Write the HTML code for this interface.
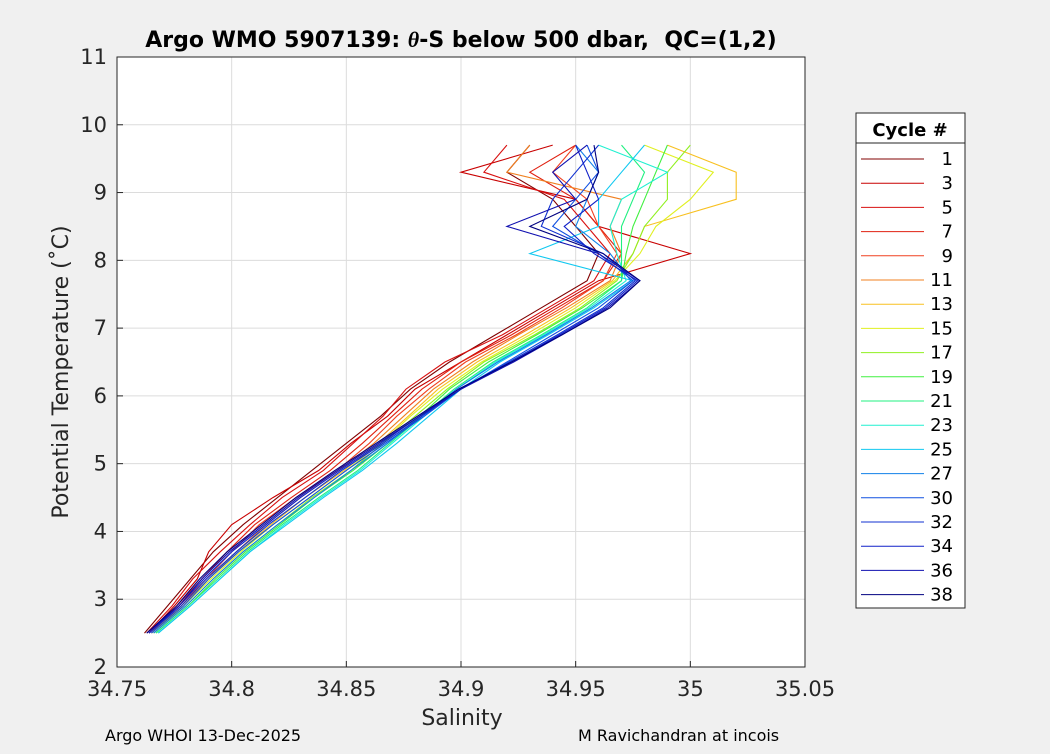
<!DOCTYPE html>
<html><head><meta charset="utf-8"><style>
body{margin:0;background:#f0f0f0;font-family:"DejaVu Sans","Liberation Sans",sans-serif}
</style></head><body>
<svg id="chart" width="1050" height="750" xmlns="http://www.w3.org/2000/svg" font-family="DejaVu Sans, Liberation Sans, sans-serif">
<rect width="1050" height="750" fill="#f0f0f0"/>
<rect x="117" y="57" width="688" height="610" fill="#fff"/>
<g id="grid"></g>
<g id="series"></g>
<rect x="117" y="57" width="688" height="610" fill="none" stroke="#262626" stroke-width="1"/>
<g id="ticks"></g>
<text x="461" y="47" text-anchor="middle" font-size="22" font-weight="bold" fill="#000" style="white-space:pre">Argo WMO 5907139: <tspan font-style="italic" font-family="Liberation Serif, serif">θ</tspan>-S below 500 dbar,  QC=(1,2)</text>
<text x="462" y="725" text-anchor="middle" font-size="22" fill="#262626">Salinity</text>
<text transform="translate(68,372) rotate(-90)" text-anchor="middle" font-size="22" fill="#262626">Potential Temperature (˚C)</text>
<text x="105" y="741" font-size="16" fill="#000">Argo WHOI 13-Dec-2025</text>
<text x="578" y="741" font-size="16" fill="#000">M Ravichandran at incois</text>
<g id="legend">
<rect x="856" y="113" width="109" height="495" fill="#fff" stroke="#262626"/>
<line x1="856" y1="143" x2="965" y2="143" stroke="#262626"/>
<text x="910" y="136" text-anchor="middle" font-size="18" font-weight="bold">Cycle #</text>
</g>
</svg>
<script>
const cycles=[1,3,5,7,9,11,13,15,17,19,21,23,25,27,30,32,34,36,38];
const colors=["#800000","#c80000","#d81010","#e02010","#f04020","#f08020","#f8c020","#e0f020","#90f020","#40f040","#20f080","#20f0d0","#10c8f0","#1080e8","#1050e0","#1030d0","#1020c8","#1010b0","#000080"];
const tempLevels=[2.5,2.9,3.3,3.7,4.1,4.5,4.9,5.3,5.7,6.1,6.5,6.9,7.3,7.7,8.1,8.5,8.9,9.3,9.7];
const sal1=[34.762,34.772,34.782,34.792,34.805,34.82,34.835,34.85,34.865,34.878,34.895,34.915,34.935,34.955,34.96,34.95,34.94,34.92,34.93];
const sal3=[34.764,34.775,34.785,34.79,34.80,34.818,34.838,34.852,34.868,34.88,34.90,34.92,34.94,34.96,35.0,34.96,34.95,34.90,34.94];
const sal5=[34.763,34.774,34.783,34.795,34.808,34.822,34.84,34.853,34.866,34.876,34.893,34.918,34.938,34.958,34.965,34.955,34.945,34.91,34.92];
const sal7=[34.765,34.776,34.787,34.798,34.81,34.826,34.843,34.857,34.87,34.883,34.90,34.922,34.942,34.962,34.97,34.96,34.95,34.93,34.95];
const sal9=[34.764,34.777,34.789,34.80,34.812,34.828,34.846,34.86,34.872,34.886,34.902,34.924,34.944,34.962,34.968,34.96,34.955,34.94,34.95];
const sal11=[34.765,34.778,34.79,34.802,34.815,34.83,34.847,34.862,34.875,34.888,34.905,34.925,34.946,34.965,34.97,34.965,34.97,34.92,34.93];
const sal13=[34.765,34.779,34.79,34.803,34.817,34.832,34.849,34.864,34.877,34.89,34.907,34.928,34.948,34.966,34.975,34.98,35.02,35.02,34.99];
const sal15=[34.766,34.779,34.791,34.804,34.818,34.834,34.85,34.865,34.878,34.892,34.909,34.93,34.95,34.967,34.978,34.985,35.0,35.01,34.98];
const sal17=[34.766,34.78,34.792,34.805,34.82,34.835,34.852,34.866,34.88,34.894,34.91,34.932,34.952,34.968,34.975,34.98,34.99,34.99,35.0];
const sal19=[34.767,34.781,34.793,34.806,34.821,34.836,34.853,34.868,34.882,34.895,34.912,34.933,34.953,34.97,34.972,34.975,34.98,34.985,34.99];
const sal21=[34.767,34.781,34.794,34.807,34.822,34.838,34.855,34.869,34.883,34.897,34.914,34.935,34.955,34.97,34.97,34.97,34.975,34.98,34.97];
const sal23=[34.768,34.782,34.795,34.808,34.823,34.839,34.856,34.87,34.884,34.898,34.915,34.936,34.956,34.972,34.968,34.965,34.97,34.99,34.96];
const sal25=[34.768,34.782,34.795,34.808,34.824,34.84,34.857,34.872,34.886,34.9,34.917,34.938,34.958,34.975,34.93,34.96,34.96,34.97,34.98];
const sal27=[34.766,34.78,34.792,34.805,34.82,34.836,34.852,34.868,34.883,34.898,34.916,34.937,34.957,34.974,34.965,34.95,34.955,34.96,34.95];
const sal30=[34.765,34.779,34.79,34.803,34.818,34.834,34.85,34.867,34.884,34.9,34.92,34.94,34.96,34.975,34.96,34.94,34.95,34.96,34.955];
const sal32=[34.764,34.778,34.789,34.802,34.816,34.832,34.848,34.866,34.883,34.9,34.921,34.942,34.962,34.976,34.962,34.935,34.94,34.95,34.96];
const sal34=[34.764,34.777,34.788,34.8,34.815,34.83,34.847,34.865,34.882,34.899,34.922,34.943,34.963,34.977,34.958,34.945,34.96,34.955,34.95];
const sal36=[34.763,34.777,34.787,34.799,34.814,34.829,34.846,34.864,34.882,34.9,34.923,34.944,34.964,34.978,34.96,34.92,34.95,34.94,34.955];
const sal38=[34.763,34.776,34.786,34.798,34.813,34.828,34.845,34.863,34.881,34.899,34.922,34.944,34.965,34.978,34.962,34.93,34.955,34.96,34.958];
const salinity=[sal1,sal3,sal5,sal7,sal9,sal11,sal13,sal15,sal17,sal19,sal21,sal23,sal25,sal27,sal30,sal32,sal34,sal36,sal38];
const xTicks=[34.75,34.8,34.85,34.9,34.95,35,35.05];
const xTickLabels=["34.75","34.8","34.85","34.9","34.95","35","35.05"];
const yTicks=[2,3,4,5,6,7,8,9,10,11];

const X0=117,X1=805,Y0=667,Y1=57;
const sx=s=>X0+(s-34.75)/(35.05-34.75)*(X1-X0);
const sy=t=>Y0-(t-2)/(11-2)*(Y0-Y1);
const NS="http://www.w3.org/2000/svg";
function mk(tag,attrs,parent){const e=document.createElementNS(NS,tag);for(const k in attrs)e.setAttribute(k,attrs[k]);parent.appendChild(e);return e;}
const grid=document.getElementById('grid'),ticks=document.getElementById('ticks'),ser=document.getElementById('series'),leg=document.getElementById('legend');
xTicks.forEach((v,i)=>{
  const x=sx(v);
  const g=mk('line',{x1:x,x2:x,y1:Y1,y2:Y0,stroke:'#dcdcdc','stroke-width':1},grid);
  
  
  const t=mk('line',{x1:x,x2:x,y1:Y0,y2:Y0-6,stroke:'#262626'},ticks);
  
  
  const l=mk('text',{x:x,y:Y0+29,'text-anchor':'middle','font-size':21,fill:'#262626'},ticks);
  l.textContent=xTickLabels[i];
  
  
});
yTicks.forEach(v=>{
  const y=sy(v);
  const g=mk('line',{x1:X0,x2:X1,y1:y,y2:y,stroke:'#dcdcdc','stroke-width':1},grid);
  
  
  const t=mk('line',{x1:X0,x2:X0+6,y1:y,y2:y,stroke:'#262626'},ticks);
  
  
  const l=mk('text',{x:X0-10,y:y+7,'text-anchor':'end','font-size':21,fill:'#262626'},ticks);
  l.textContent=String(v);
  
  
});
cycles.forEach((c,i)=>{
  const pts=salinity[i].map((s,j)=>sx(s).toFixed(1)+','+sy(tempLevels[j]).toFixed(1)).join(' ');
  const p=mk('polyline',{points:pts,fill:'none',stroke:colors[i],'stroke-width':1.1},ser);
  
  
  const ly=159+i*24.2;
  const ll=mk('line',{x1:861,x2:924,y1:ly,y2:ly,stroke:colors[i],'stroke-width':1},leg);
  
  
  const lt=mk('text',{x:953,y:ly+6,'text-anchor':'end','font-size':18,fill:'#000'},leg);
  lt.textContent=String(c);
  
  
});
</script>
</body></html>
